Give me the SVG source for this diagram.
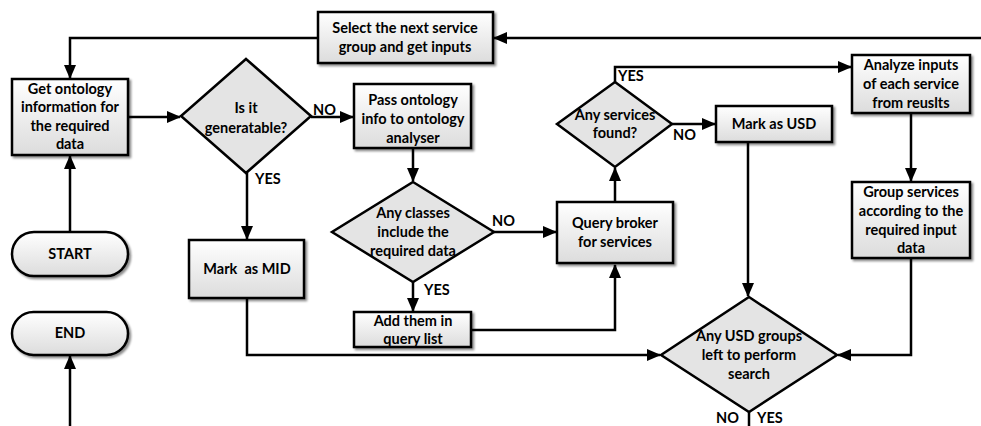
<svg xmlns="http://www.w3.org/2000/svg" width="981" height="426" viewBox="0 0 981 426">
<defs>
<linearGradient id="g" x1="0" y1="0" x2="0" y2="1">
<stop offset="0" stop-color="#ffffff"/>
<stop offset="1" stop-color="#dcdcdc"/>
</linearGradient>
<filter id="sh" x="-10%" y="-10%" width="130%" height="140%">
<feDropShadow dx="2" dy="2" stdDeviation="1" flood-color="#000" flood-opacity="0.45"/>
</filter>
<marker id="ah" markerWidth="14" markerHeight="12" refX="13" refY="6" orient="auto" markerUnits="userSpaceOnUse">
<path d="M0,0 L14,6 L0,12 Z" fill="#000"/>
</marker>
</defs>
<style>
.box{fill:url(#g);stroke:#000;stroke-width:2.5;filter:url(#sh)}
.dia{fill:#e4e4e4;stroke:#000;stroke-width:2.5}
.ln{fill:none;stroke:#000;stroke-width:2.5}
.ar{marker-end:url(#ah)}
text{font-family:Lato,"Liberation Sans",sans-serif;font-weight:bold;font-size:14.5px;fill:#000;text-anchor:middle}
.lb{text-anchor:start}
</style>

<g id="connectors">
<path class="ln ar" d="M981,38 L494,38"/>
<path class="ln ar" d="M318,38 L70,38 L70,78"/>
<path class="ln ar" d="M128,117 L180,117"/>
<path class="ln ar" d="M311,117 L353,117"/>
<path class="ln ar" d="M413,148 L413,181"/>
<path class="ln ar" d="M70,232 L70,156"/>
<path class="ln ar" d="M70,426 L70,356"/>
<path class="ln ar" d="M247,173 L247,239"/>
<path class="ln ar" d="M247,298 L247,355 L660,355"/>
<path class="ln ar" d="M494,232 L556,232"/>
<path class="ln ar" d="M413,282 L413,311"/>
<path class="ln ar" d="M471,330 L615,330 L615,265"/>
<path class="ln ar" d="M615,202 L615,168"/>
<path class="ln ar" d="M615,82 L615,67 L851,67"/>
<path class="ln ar" d="M672,124 L715,124"/>
<path class="ln ar" d="M748,142 L748,296"/>
<path class="ln ar" d="M911,113 L911,181"/>
<path class="ln ar" d="M911,258 L911,355 L838,355"/>
<path class="ln" d="M749,412 L749,426"/>
</g>

<g id="select-next">
<rect class="box" x="318" y="12" width="175" height="51"/>
<text x="405" y="33">Select the next service</text>
<text x="405" y="52">group and get inputs</text>
</g>

<g id="get-ontology">
<rect class="box" x="12" y="79" width="116" height="76"/>
<text x="70" y="94">Get ontology</text>
<text x="70" y="112">information for</text>
<text x="70" y="131">the required</text>
<text x="70" y="149">data</text>
</g>

<g id="start">
<rect class="box" x="12" y="232" width="116" height="44" rx="22" ry="22"/>
<text x="70" y="259">START</text>
</g>

<g id="end">
<rect class="box" x="12" y="312" width="116" height="43" rx="21.5" ry="21.5"/>
<text x="70" y="338">END</text>
</g>

<g id="is-generatable">
<polygon class="dia" points="246,59 311,116 246,173 181,116"/>
<text x="246" y="113">Is it</text>
<text x="246" y="133">generatable?</text>
<text class="lb" x="313" y="115">NO</text>
<text class="lb" x="255" y="184">YES</text>
</g>

<g id="pass-ontology">
<rect class="box" x="354" y="84" width="117" height="64"/>
<text x="413" y="105">Pass ontology</text>
<text x="413" y="124">info to ontology</text>
<text x="413" y="143">analyser</text>
</g>

<g id="mark-mid">
<rect class="box" x="189" y="240" width="115" height="58"/>
<text x="247" y="274" xml:space="preserve">Mark  as MID</text>
</g>

<g id="any-classes">
<polygon class="dia" points="413,182 494,232 413,282 332,232"/>
<text x="413" y="218">Any classes</text>
<text x="413" y="237">include the</text>
<text x="413" y="256">required data</text>
<text class="lb" x="492" y="226">NO</text>
<text class="lb" x="424" y="295">YES</text>
</g>

<g id="add-them">
<rect class="box" x="354" y="312" width="117" height="35"/>
<text x="413" y="326">Add them in</text>
<text x="413" y="344">query list</text>
</g>

<g id="query-broker">
<rect class="box" x="557" y="202" width="116" height="61"/>
<text x="615" y="228">Query broker</text>
<text x="615" y="247">for services</text>
</g>

<g id="any-services">
<polygon class="dia" points="615,82 672,124 615,167 557,124"/>
<text x="615" y="120">Any services</text>
<text x="615" y="138">found?</text>
<text class="lb" x="618" y="81">YES</text>
<text class="lb" x="673" y="140">NO</text>
</g>

<g id="mark-usd">
<rect class="box" x="716" y="106" width="116" height="36"/>
<text x="774" y="129">Mark as USD</text>
</g>

<g id="analyze-inputs">
<rect class="box" x="852" y="55" width="118" height="58"/>
<text x="911" y="70">Analyze inputs</text>
<text x="911" y="89">of each service</text>
<text x="911" y="108">from reuslts</text>
</g>

<g id="group-services">
<rect class="box" x="852" y="182" width="118" height="76"/>
<text x="911" y="197">Group services</text>
<text x="911" y="216">according to the</text>
<text x="911" y="235">required input</text>
<text x="911" y="253">data</text>
</g>

<g id="any-usd">
<polygon class="dia" points="749,297 837,355 749,412 661,355"/>
<text x="749" y="341">Any USD groups</text>
<text x="749" y="360">left to perform</text>
<text x="749" y="379">search</text>
<text class="lb" x="716" y="423">NO</text>
<text class="lb" x="757" y="423">YES</text>
</g>
</svg>
